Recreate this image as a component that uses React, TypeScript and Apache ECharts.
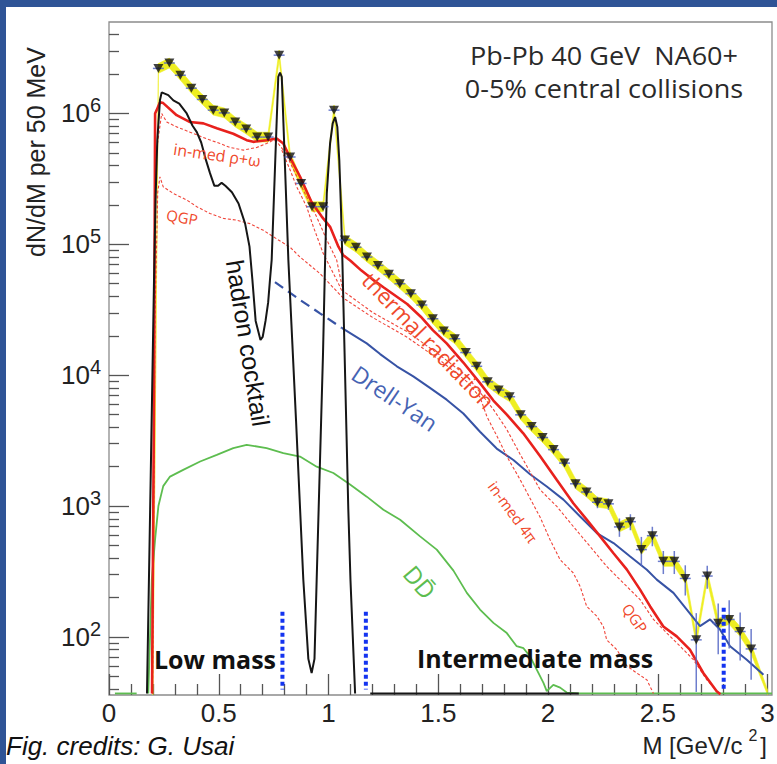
import React, { useEffect, useRef } from "react";
import * as echarts from "echarts";

const WIDTH = 777;
const HEIGHT = 764;
const SANS = "'Liberation Sans', Arial, sans-serif";
const OPEN = "'Open Sans', 'Noto Sans', sans-serif";

// ---------- axes ----------
const X_MIN = 0;
const X_MAX = 3.02;
const Y_MIN = 36;
const Y_MAX = 5.0e6;
const xMajorTicks = [0, 0.5, 1, 1.5, 2, 2.5, 3];
const xMinorTicks = [0.1, 0.2, 0.3, 0.4, 0.6, 0.7, 0.8, 0.9, 1.1, 1.2, 1.3, 1.4, 1.6, 1.7, 1.8, 1.9, 2.1, 2.2, 2.3, 2.4, 2.6, 2.7, 2.8, 2.9];
const yDecadeExponents = [2, 3, 4, 5, 6];
const yMinorMultipliers = [2, 3, 4, 5, 6, 7, 8, 9];
const yMinorDecades = [10, 100, 1000, 10000, 100000, 1000000];

// ---------- NA60+ projected data (50 MeV bins) ----------
const dataMass = [0.225, 0.275, 0.325, 0.375, 0.425, 0.475, 0.525, 0.575, 0.625, 0.675, 0.725, 0.775, 0.825, 0.875, 0.925, 0.975, 1.025, 1.075, 1.125, 1.175, 1.225, 1.275,
  1.325, 1.375, 1.425, 1.475, 1.525, 1.575, 1.625, 1.675, 1.725, 1.775, 1.825, 1.875, 1.925, 1.975,
  2.025, 2.075, 2.125, 2.175, 2.225, 2.275, 2.325, 2.375, 2.425, 2.475, 2.525, 2.575, 2.625, 2.675, 2.725, 2.775, 2.825, 2.875, 2.925];
const dataYield = [2.21e6, 2.43e6, 1.96e6, 1.56e6, 1.28e6, 1.06e6, 1.01e6, 8.6e5, 7.6e5, 6.6e5, 6.6e5, 2.79e6, 4.65e5, 2.92e5, 1.94e5, 1.94e5, 1.06e6, 1.08e5, 9.5e4, 8.0e4, 6.9e4, 5.9e4,
  5.0e4, 4.2e4, 3.44e4, 2.7e4, 2.18e4, 1.9e4, 1.49e4, 1.17e4, 8.9e3, 7.7e3, 6.85e3, 4.98e3, 4.05e3, 3.34e3,
  2.7e3, 2.13e3, 1.48e3, 1.28e3, 1.07e3, 1.04e3, 693, 760, 465, 594, 378, 378, 280, 95, 292, 127, 136, 110, 81];
// relative statistical error of each bin
const dataStatErr = [0.02, 0.02, 0.02, 0.02, 0.02, 0.02, 0.02, 0.02, 0.02, 0.02, 0.02, 0.02, 0.02, 0.02, 0.02, 0.02, 0.02, 0.02, 0.02, 0.02, 0.02, 0.02,
  0.03, 0.03, 0.03, 0.03, 0.03, 0.03, 0.03, 0.03, 0.03, 0.03, 0.03, 0.03, 0.03, 0.03,
  0.05, 0.06, 0.08, 0.08, 0.1, 0.1, 0.16, 0.14, 0.25, 0.17, 0.2, 0.2, 0.26, 0.6, 0.2, 0.42, 0.4, 0.4, 0.42];
const BIN_HALF_WIDTH = 0.025;
const SYS_BAND = 0.09; // systematic band (relative)
const BAND_START: [number, number] = [0.2, 36];
const BAND_END: [number, number] = [3.0, 36];

// ---------- model curves ----------
const hadronCocktail: [number, number][] = [
  [0.173, 37], [0.19, 1700], [0.205, 5.3e4], [0.212, 2.2e5], [0.22, 6.2e5], [0.232, 1.26e6], [0.24, 1.45e6], [0.27, 1.38e6],
  [0.293, 1.26e6], [0.32, 1.19e6], [0.354, 1.0e6], [0.38, 8.1e5], [0.4, 7.2e5], [0.42, 6.0e5], [0.44, 4.5e5], [0.46, 3.5e5],
  [0.48, 2.8e5], [0.497, 2.8e5], [0.513, 2.95e5], [0.53, 2.8e5], [0.56, 2.5e5], [0.59, 2.05e5], [0.62, 1.44e5], [0.64, 9.6e4],
  [0.653, 5.4e4], [0.668, 2.6e4], [0.69, 1.86e4], [0.7, 1.96e4], [0.713, 2.6e4], [0.725, 3.6e4], [0.733, 5.3e4], [0.741, 7.6e4],
  [0.756, 3.8e5], [0.771, 1.9e6], [0.779, 2.05e6], [0.787, 1.9e6], [0.802, 3.8e5], [0.817, 7.6e4], [0.852, 4.5e3], [0.885, 276],
  [0.908, 68], [0.923, 53], [0.936, 68], [0.946, 276], [0.975, 1.5e4], [0.983, 6.0e4], [0.992, 2.45e5], [1.007, 5.9e5],
  [1.019, 8.4e5], [1.03, 9.4e5], [1.04, 7.9e5], [1.049, 4.4e5], [1.057, 1.8e5], [1.063, 7.6e4], [1.09, 950], [1.1, 270], [1.121, 37],
];
const hadronCocktailFloor: [number, number][] = [[1.19, 37], [2.14, 37]];

const thermalRadiation: [number, number][] = [
  [0.196, 37], [0.205, 6.5e3], [0.21, 1.0e6], [0.217, 1.06e6], [0.232, 1.22e6], [0.247, 1.2e6], [0.308, 9.7e5], [0.369, 8.6e5],
  [0.43, 8.4e5], [0.491, 7.7e5], [0.566, 7.0e5], [0.627, 6.25e5], [0.657, 6.07e5], [0.718, 6.25e5], [0.764, 6.44e5], [0.794, 5.9e5],
  [0.825, 4.6e5], [0.87, 3.3e5], [0.923, 2.1e5], [0.969, 1.63e5], [1.007, 1.36e5], [1.045, 9.6e4], [1.066, 8.3e4], [1.1, 7.5e4],
  [1.15, 6.3e4], [1.2, 5.4e4], [1.25, 4.7e4], [1.3, 4.1e4], [1.358, 3.5e4], [1.42, 2.8e4], [1.476, 2.2e4], [1.538, 1.75e4],
  [1.614, 1.25e4], [1.69, 8.7e3], [1.751, 6.4e3], [1.812, 5.0e3], [1.887, 3.6e3], [1.964, 2.4e3], [2.04, 1.58e3], [2.115, 1.05e3],
  [2.176, 787], [2.237, 587], [2.297, 438], [2.359, 327], [2.419, 230], [2.465, 171], [2.525, 120], [2.586, 101], [2.646, 80],
  [2.707, 53], [2.768, 38.5], [2.785, 36.5],
];

const inMedRhoOmega: [number, number][] = [
  [0.198, 37], [0.205, 1.0e4], [0.215, 5.0e5], [0.24, 1.0e6], [0.263, 8.6e5], [0.308, 7.9e5], [0.369, 7.2e5], [0.445, 6.4e5],
  [0.506, 5.9e5], [0.551, 5.5e5], [0.612, 5.25e5], [0.673, 5.5e5], [0.718, 5.9e5], [0.749, 6.25e5], [0.764, 6.1e5], [0.794, 5.25e5],
  [0.817, 4.5e5], [0.885, 2.6e5], [0.946, 1.62e5], [0.992, 1.08e5], [1.037, 7.6e4], [1.066, 4.4e4], [1.203, 3.0e4], [1.358, 2.15e4],
  [1.508, 1.42e4], [1.631, 9.8e3], [1.69, 7.4e3], [1.75, 5.5e3], [1.81, 3.9e3], [1.872, 2.5e3], [1.964, 1.33e3], [2.04, 993],
  [2.115, 698], [2.191, 492], [2.267, 346], [2.343, 258], [2.419, 193], [2.48, 136], [2.541, 107], [2.601, 85], [2.662, 67],
  [2.723, 47], [2.768, 38.5],
];
const qgpRadiation: [number, number][] = [
  [0.198, 37], [0.21, 3.0e4], [0.222, 2.5e5], [0.232, 3.28e5], [0.247, 2.75e5], [0.293, 2.45e5], [0.354, 2.18e5], [0.4, 1.94e5],
  [0.46, 1.72e5], [0.521, 1.58e5], [0.582, 1.53e5], [0.642, 1.44e5], [0.703, 1.28e5], [0.764, 1.1e5], [0.825, 9.5e4], [0.87, 8.0e4],
  [0.96, 6.0e4], [1.066, 3.9e4], [1.203, 2.75e4], [1.358, 1.95e4], [1.508, 1.3e4], [1.631, 8.9e3], [1.69, 6.8e3], [1.722, 4.8e3],
  [1.768, 3.4e3], [1.812, 2.4e3], [1.872, 1.6e3], [1.964, 820], [2.009, 553], [2.055, 389], [2.115, 308], [2.146, 243],
  [2.176, 171], [2.222, 144], [2.252, 120], [2.267, 95], [2.313, 80], [2.359, 60], [2.404, 53], [2.45, 47], [2.48, 37],
];
const inMedFourPi: [number, number][] = [
  [0.787, 5.25e5], [0.825, 3.7e5], [0.855, 2.75e5], [0.9, 1.94e5], [0.931, 1.36e5], [0.976, 8.5e4], [1.022, 6.0e4], [1.052, 4.75e4],
  [1.066, 4.2e4],
];

const drellYanDashed: [number, number][] = [[0.756, 5.15e4], [0.87, 3.76e4], [0.961, 2.97e4], [1.06, 2.3e4]];
const drellYan: [number, number][] = [
  [1.06, 2.3e4], [1.174, 1.75e4], [1.235, 1.45e4], [1.311, 1.17e4], [1.386, 9.8e3], [1.462, 8.0e3], [1.538, 6.5e3], [1.614, 5.1e3],
  [1.69, 3.7e3], [1.766, 2.75e3], [1.842, 2.25e3], [1.918, 1.75e3], [1.994, 1.41e3], [2.07, 1.12e3], [2.146, 832], [2.222, 622],
  [2.298, 522], [2.374, 412], [2.45, 326], [2.495, 274], [2.571, 217], [2.632, 162], [2.692, 121], [2.738, 136], [2.783, 114],
  [2.829, 85], [2.905, 67], [2.981, 51.5],
];

const openCharm: [number, number][] = [
  [0.179, 37], [0.195, 276], [0.21, 556], [0.225, 1.0e3], [0.247, 1.42e3], [0.278, 1.68e3], [0.338, 1.89e3], [0.415, 2.19e3],
  [0.491, 2.46e3], [0.566, 2.77e3], [0.627, 2.94e3], [0.718, 2.77e3], [0.794, 2.54e3], [0.87, 2.39e3], [0.946, 2.0e3], [1.022, 1.79e3],
  [1.098, 1.46e3], [1.174, 1.18e3], [1.25, 937], [1.326, 786], [1.417, 587], [1.493, 465], [1.569, 321], [1.63, 217],
  [1.69, 162], [1.751, 128], [1.812, 107], [1.857, 85], [1.888, 82], [1.918, 71], [1.949, 56], [1.979, 44.5],
  [1.994, 38.5], [2.024, 43], [2.055, 41], [2.085, 37.6], [2.14, 37], [3.02, 37],
];
const openCharmFloor: [number, number][] = [[0.027, 37], [0.126, 37]];

// mass-region boundaries (blue dotted)
const regionBoundaries = [0.79, 1.17, 2.8];
const regionBoundaryTops = [156, 156, 167];
const REGION_BOUNDARY_BOTTOM = 39.6;

const RED = "#e8211d";
const RED_DOT = "#f0453a";
const LABEL_RED = "#ef4a2c";
const BLUE = "#3753a5";
const GREEN = "#5dbd4f";
const BLACK = "#161616";
const YELLOW = "#eeee22";
const ERR_BLUE = "#5466c4";

function lineSeries(data: [number, number][], color: string, width: number, type: any = "solid", z = 3) {
  return {
    type: "line",
    data,
    showSymbol: false,
    symbol: "none",
    silent: true,
    clip: true,
    z,
    lineStyle: { color, width, type },
  };
}

function txt(text: string, x: number, y: number, rotDeg: number, style: any, extra: any = {}) {
  return {
    type: "text",
    x,
    y,
    rotation: (rotDeg * Math.PI) / 180,
    z: 50,
    silent: true,
    ...extra,
    style: { text, align: "center", verticalAlign: "middle", ...style },
  };
}

function buildOption() {
  const logMin = Math.log10(Y_MIN);
  const logMax = Math.log10(Y_MAX);
  const yMinorLog: number[] = [];
  yMinorDecades.forEach((d) => yMinorMultipliers.forEach((m) => {
    const v = d * m;
    if (v > Y_MIN && v < Y_MAX) yMinorLog.push(Math.log10(v));
  }));

  const points = dataMass.map((m, i) => [m, dataYield[i]]);
  const bandPts: [number, number][] = [BAND_START, ...(points as [number, number][]), BAND_END];
  const bandSegments = bandPts.slice(0, -1).map((p, i) => [p[0], p[1], bandPts[i + 1][0], bandPts[i + 1][1]]);
  const errData = dataMass.map((m, i) => [m, dataYield[i], dataYield[i] * (1 - dataStatErr[i]), dataYield[i] * (1 + dataStatErr[i])]);
  const K = 1 + SYS_BAND;

  const tickStyle = { color: "#555", width: 1.3 };

  return {
    animation: false,
    backgroundColor: "#ffffff",
    grid: {
      left: 109, right: 5, top: 22, bottom: 69, show: true, borderColor: "#8c8c8c", borderWidth: 1.3,
      backgroundColor: "transparent", containLabel: false, outerBoundsMode: "none",
    },
    xAxis: [
      {
        type: "value", min: X_MIN, max: X_MAX, position: "bottom",
        axisLine: { show: false }, splitLine: { show: false },
        axisTick: { show: true, inside: true, length: 21, customValues: xMajorTicks, lineStyle: tickStyle },
        axisLabel: { customValues: xMajorTicks, margin: 5, fontSize: 26, fontFamily: SANS, color: "#222", formatter: (v: number) => String(v) },
      },
      {
        type: "value", min: X_MIN, max: X_MAX, position: "bottom",
        axisLine: { show: false }, splitLine: { show: false },
        axisTick: { show: true, inside: true, length: 11, customValues: xMinorTicks, lineStyle: tickStyle },
        axisLabel: { show: false },
      },
    ],
    yAxis: [
      { type: "log", logBase: 10, min: Y_MIN, max: Y_MAX, position: "left", show: false },
      {
        type: "value", min: logMin, max: logMax, position: "left",
        axisLine: { show: false }, splitLine: { show: false },
        axisTick: { show: true, inside: true, length: 20, customValues: yDecadeExponents, lineStyle: tickStyle },
        axisLabel: {
          customValues: yDecadeExponents, margin: 8,
          formatter: (v: number) => `{b|10}{s|${v}}`,
          rich: {
            b: { fontSize: 26, fontFamily: SANS, color: "#222", lineHeight: 36 },
            s: { fontSize: 20, fontFamily: SANS, color: "#222", lineHeight: 20, verticalAlign: "top" },
          },
        },
      },
      {
        type: "value", min: logMin, max: logMax, position: "left",
        axisLine: { show: false }, splitLine: { show: false },
        axisTick: { show: true, inside: true, length: 10, customValues: yMinorLog, lineStyle: tickStyle },
        axisLabel: { show: false },
      },
    ],
    series: [
      {
        type: "custom",
        name: "systematics",
        coordinateSystem: "cartesian2d",
        data: bandSegments,
        clip: true,
        silent: true,
        z: 2,
        encode: { x: [0, 2], y: [1, 3] },
        renderItem: (params: any, api: any) => {
          const x0 = api.value(0), y0 = api.value(1), x1 = api.value(2), y1 = api.value(3);
          const pts = [api.coord([x0, y0 * K]), api.coord([x1, y1 * K]), api.coord([x1, y1 / K]), api.coord([x0, y0 / K])];
          const cs = params.coordSys;
          const clipped = echarts.graphic.clipPointsByRect(pts, { x: cs.x, y: cs.y, width: cs.width, height: cs.height });
          return { type: "polygon", shape: { points: clipped }, style: { fill: YELLOW, stroke: YELLOW, lineWidth: 0.6 } };
        },
      },
      lineSeries(openCharmFloor, GREEN, 1.8),
      lineSeries(openCharm, GREEN, 1.8),
      lineSeries(drellYanDashed, BLUE, 2.2, [10, 6]),
      lineSeries(drellYan, BLUE, 2),
      lineSeries(qgpRadiation, RED_DOT, 1.1, [3, 2]),
      lineSeries(inMedFourPi, RED_DOT, 1.1, [3, 2]),
      lineSeries(inMedRhoOmega, RED_DOT, 1.1, [3, 2]),
      lineSeries(thermalRadiation, RED, 2.6, "solid", 4),
      lineSeries(hadronCocktail, BLACK, 2, "solid", 5),
      lineSeries(hadronCocktailFloor, BLACK, 2, "solid", 5),
      {
        type: "custom",
        name: "stat errors",
        coordinateSystem: "cartesian2d",
        data: errData,
        clip: true,
        silent: true,
        z: 6,
        encode: { x: 0, y: [1, 2, 3] },
        renderItem: (params: any, api: any) => {
          const x = api.value(0), y = api.value(1), lo = api.value(2), hi = api.value(3);
          const pLo = api.coord([x, lo]);
          const pHi = api.coord([x, hi]);
          const pL = api.coord([x - BIN_HALF_WIDTH, y]);
          const pR = api.coord([x + BIN_HALF_WIDTH, y]);
          const style = { stroke: ERR_BLUE, lineWidth: 1.5, opacity: 0.85 };
          return {
            type: "group",
            children: [
              { type: "line", shape: { x1: pLo[0], y1: pLo[1], x2: pHi[0], y2: pHi[1] }, style },
              { type: "line", shape: { x1: pL[0], y1: pL[1], x2: pR[0], y2: pR[1] }, style },
            ],
          };
        },
      },
      {
        type: "scatter",
        name: "NA60+ projection",
        data: points,
        symbol: "triangle",
        symbolRotate: 180,
        symbolSize: [10, 9],
        itemStyle: { color: "#111" },
        silent: true,
        z: 7,
      },
      ...regionBoundaries.map((bx, i) => ({
        type: "line",
        data: [[bx, regionBoundaryTops[i]], [bx, REGION_BOUNDARY_BOTTOM]],
        showSymbol: false,
        symbol: "none",
        silent: true,
        z: 8,
        lineStyle: { color: "#1434f0", width: 4, type: [4, 3] },
      })),
    ],
    graphic: [
      { type: "rect", shape: { x: 0, y: 0, width: WIDTH, height: 7 }, style: { fill: "#2f5496" }, z: 100, silent: true },
      { type: "rect", shape: { x: 0, y: 0, width: 6, height: HEIGHT }, style: { fill: "#2f5496" }, z: 100, silent: true },
      txt("dN/dM per 50 MeV", 36, 152, 90, { fontSize: 25, fontFamily: SANS, fill: "#222" }),
      {
        type: "text", x: 767, y: 727, z: 50, silent: true,
        style: {
          text: "M [GeV/c{s|2}]", align: "right", verticalAlign: "top", fontSize: 24, fontFamily: SANS, fill: "#222", lineHeight: 36,
          rich: { s: { fontSize: 16, fontFamily: SANS, fill: "#222", lineHeight: 16, verticalAlign: "top", padding: [0, 3, 0, 6] } },
        },
      },
      txt("Pb-Pb 40 GeV  NA60+", 604, 55, 0, { fontSize: 26, fontFamily: OPEN, fill: "#2a2a2a" }, { scaleX: 1.04 }),
      txt("0-5% central collisions", 604, 88, 0, { fontSize: 26, fontFamily: OPEN, fill: "#2a2a2a" }, { scaleX: 1.04 }),
      txt("in-med ρ+ω", 217, 155, -8, { fontSize: 16, fontFamily: OPEN, fill: LABEL_RED }),
      txt("QGP", 182, 217, -10, { fontSize: 15, fontFamily: OPEN, fill: LABEL_RED }),
      txt("hadron cocktail", 248, 343, -80.8, { fontSize: 25, fontFamily: SANS, fill: "#111" }),
      txt("thermal radiation", 429, 340, -46, { fontSize: 22, fontFamily: OPEN, fill: LABEL_RED }),
      txt("Drell-Yan", 395, 398, -34, { fontSize: 23, fontFamily: OPEN, fill: "#4663b3" }),
      txt("in-med 4π", 513, 512, -54, { fontSize: 15, fontFamily: OPEN, fill: LABEL_RED }),
      txt("QGP", 635, 618, -55, { fontSize: 15, fontFamily: OPEN, fill: LABEL_RED }),
      txt("DD\u0304", 420, 582, -50, { fontSize: 24, fontFamily: OPEN, fill: GREEN }),
      txt("Low mass", 215, 659, 0, { fontSize: 25, fontFamily: OPEN, fontWeight: "bold", fill: "#111" }),
      txt("Intermediate mass", 535, 658, 0, { fontSize: 25, fontFamily: OPEN, fontWeight: "bold", fill: "#111" }),
      {
        type: "text", x: 6, y: 746, z: 50, silent: true,
        style: { text: "Fig. credits: G. Usai", align: "left", verticalAlign: "middle", fontSize: 26, fontFamily: SANS, fontStyle: "italic", fill: "#111" },
      },
    ],
  };
}

export default function App() {
  const ref = useRef<HTMLDivElement>(null);
  useEffect(() => {
    const el = ref.current;
    if (!el) return;
    const chart = echarts.init(el, undefined, { renderer: "svg" });
    chart.setOption(buildOption() as any);
    return () => chart.dispose();
  }, []);
  return (
    <div
      ref={ref}
      style={{ position: "fixed", left: 0, top: 0, width: WIDTH, height: HEIGHT, background: "#ffffff" }}
    />
  );
}
